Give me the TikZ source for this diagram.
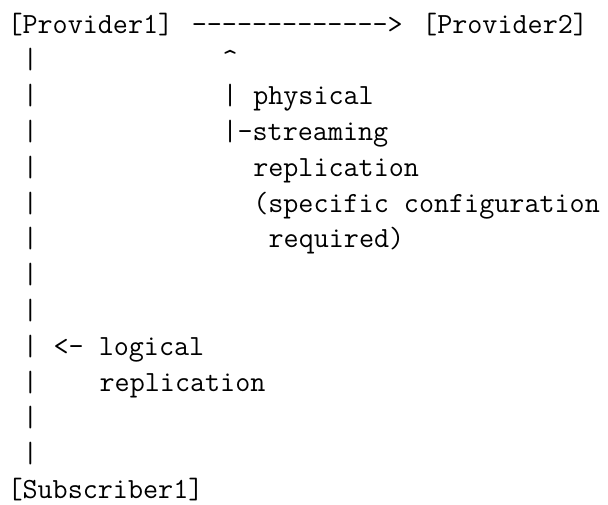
\documentclass[tikz,border=0pt]{standalone}
\usepackage{fontspec}
\setmonofont{Latin Modern Mono}
\begin{document}
\begin{tikzpicture}[
  x=15.36pt, y=-35.8pt,
  txt/.style={anchor=base west, inner sep=0pt, outer sep=0pt,
    font=\ttfamily\fontsize{29.26pt}{34pt}\selectfont, text=black}]
\useasboundingbox[fill=white] (0pt,0pt) rectangle (608pt,-504pt);
\begin{scope}[yshift=-33pt, xshift=7.5pt]
  % top row: the two providers and the link between them
  \node[txt] (prov1) at (0,0) {[Provider1]};
  \node[txt] (link) at (12,0) {------------->};
  \node[txt] (prov2) at (27,0) {[Provider2]};
  % left column of bars down to the subscriber
  \foreach \r in {1,...,12}
    \node[txt] (bar\r) at (1,\r) {|};
  \node[txt] (sub1) at (0,13) {[Subscriber1]};
  % streaming branch
  \node[txt] (caret) at (14,1) {\textasciicircum};
  \node[txt] (sbar1) at (14,2) {|};
  \node[txt] (phys) at (16,2) {physical};
  \node[txt] (sbar2) at (14,3) {|-streaming};
  \node[txt] (srepl) at (16,4) {replication};
  \node[txt] (spec) at (16,5) {(specific configuration};
  \node[txt] (req) at (17,6) {required)};
  % logical branch
  \node[txt] (logi) at (3,9) {<- logical};
  \node[txt] (lrepl) at (6,10) {replication};
\end{scope}
\end{tikzpicture}
\end{document}
